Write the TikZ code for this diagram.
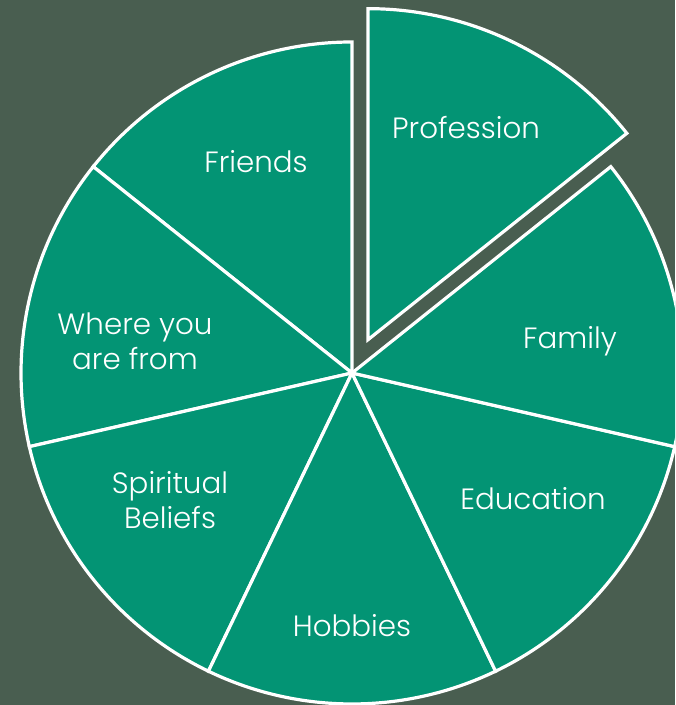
\documentclass[tikz,border=0pt]{standalone}
\usepackage{fontspec}
\setmainfont{Poppins}[UprightFont=*-Light]
\definecolor{bggreen}{RGB}{73,94,80}
\definecolor{piegreen}{RGB}{3,148,116}

\begin{document}
\begin{tikzpicture}[x=0.75pt,y=0.75pt,
        slice/.style={fill=piegreen, draw=white, line width=2.4pt, line join=miter},
        lbl/.style={text=white, font=\fontsize{22}{26}\selectfont, align=center, inner sep=0pt}]
        \fill[bggreen] (0,0) rectangle (675,705);
        \useasboundingbox (0,0) rectangle (675,705);
        \clip (0,0) rectangle (675,705);
        \coordinate (center) at (352,332);
        \coordinate (outcenter) at ([shift={(64.29:37)}]center);

        % six slices that stay in place
        \foreach \a in {90,141.43,192.86,244.29,295.71,347.14}
            \draw[slice] (center) -- ++(\a:331) arc[start angle=\a, delta angle=51.43, radius=331] -- cycle;

        % the pulled out slice
        \draw[slice] (outcenter) -- ++(38.57:331) arc[start angle=38.57, end angle=90, radius=331] -- cycle;

        \node[lbl] (profession) at (466,577) {Profession};
        \node[lbl] (friends) at (256,543) {Friends};
        \node[lbl] (from) at (135,364) {Where you\\are from};
        \node[lbl] (spiritual) at (170,205) {Spiritual\\Beliefs};
        \node[lbl] (hobbies) at (352,79) {Hobbies};
        \node[lbl] (education) at (533,206) {Education};
        \node[lbl] (family) at (570,364) {Family};
\end{tikzpicture}
\end{document}
